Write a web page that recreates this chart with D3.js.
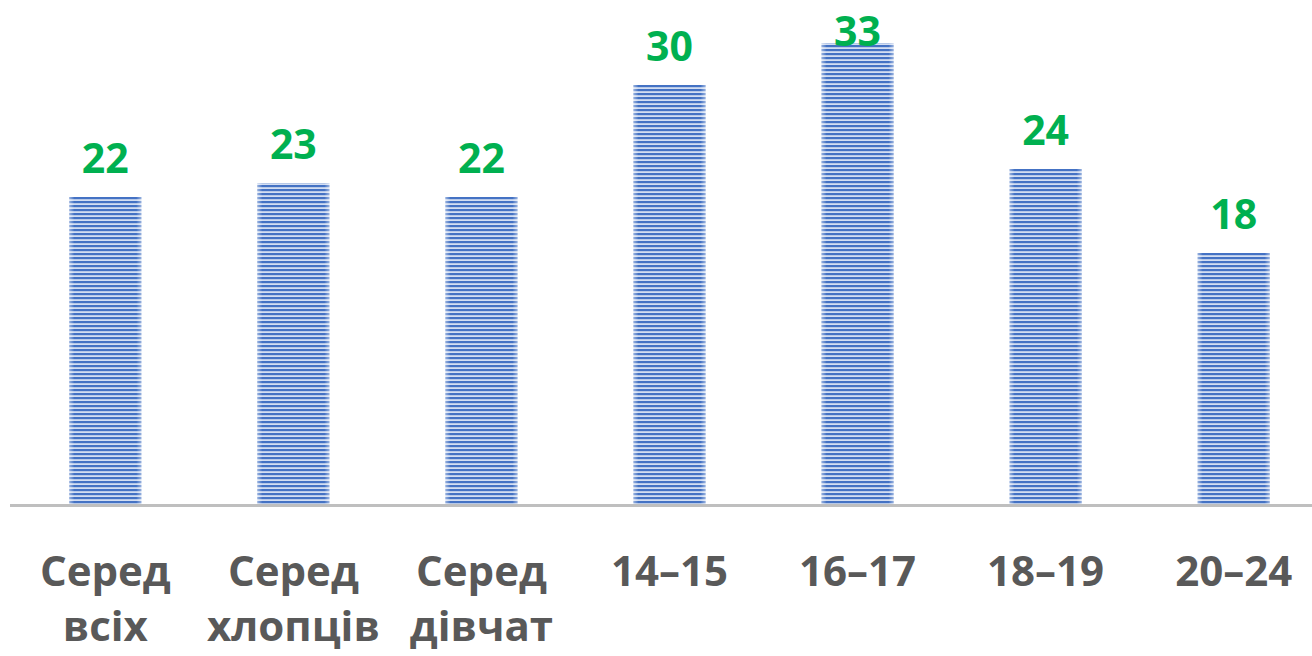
<!DOCTYPE html>
<html><head><meta charset="utf-8">
<script src="https://cdn.jsdelivr.net/npm/d3@7/dist/d3.min.js"></script>
<style>body{margin:0;background:#fff}svg{display:block}</style>
</head><body>
<svg id="c" width="1312" height="656"></svg>
<script>
const categories = [["Серед","всіх"],["Серед","хлопців"],["Серед","дівчат"],["14–15"],["16–17"],["18–19"],["20–24"]];
const values = [22,23,22,30,33,24,18];

const W=1312,H=656;
const svg=d3.select("#c");
const defs=svg.append("defs");
const pat=defs.append("pattern").attr("id","stripes").attr("patternUnits","userSpaceOnUse")
  .attr("width",8).attr("height",4).attr("y",1);
pat.append("rect").attr("width",8).attr("height",4).attr("fill","#d3def2");
pat.append("rect").attr("width",8).attr("height",2.2).attr("fill","#4472c4");
const lg=defs.append("linearGradient").attr("id","edge").attr("x1","0").attr("x2","1");
lg.append("stop").attr("offset","0").attr("stop-color","#fff").attr("stop-opacity",0.45);
lg.append("stop").attr("offset","0.07").attr("stop-color","#fff").attr("stop-opacity",0);
lg.append("stop").attr("offset","0.93").attr("stop-color","#fff").attr("stop-opacity",0);
lg.append("stop").attr("offset","1").attr("stop-color","#fff").attr("stop-opacity",0.45);

const x=d3.scaleBand().domain(d3.range(values.length)).range([11,1328]).paddingInner(0.617).paddingOuter(0.31);
const y=d3.scaleLinear().domain([0,33]).range([505,43]);

const g=svg.append("g");
g.selectAll("rect.bar").data(values).join("rect").attr("class","bar")
  .attr("x",(d,i)=>x(i)).attr("width",x.bandwidth())
  .attr("y",d=>y(d)).attr("height",d=>y(0)-y(d)).attr("fill","url(#stripes)");
g.selectAll("rect.edge").data(values).join("rect").attr("class","edge")
  .attr("x",(d,i)=>x(i)).attr("width",x.bandwidth())
  .attr("y",d=>y(d)).attr("height",d=>y(0)-y(d)).attr("fill","url(#edge)");

svg.append("line").attr("x1",10).attr("x2",W).attr("y1",505.5).attr("y2",505.5)
  .attr("stroke","#bfbfbf").attr("stroke-width",3);

g.selectAll("text.val").data(values).join("text").attr("class","val")
  .attr("x",(d,i)=>x(i)+x.bandwidth()/2)
  .attr("y",d=>Math.max(y(d)-24,46))
  .attr("text-anchor","middle").attr("font-family","Open Sans, sans-serif")
  .attr("font-weight","bold").attr("font-size",41).attr("fill","#00b050")
  .text(d=>d);

const lab=g.selectAll("text.cat").data(categories).join("text").attr("class","cat")
  .attr("x",(d,i)=>x(i)+x.bandwidth()/2).attr("y",586)
  .attr("text-anchor","middle").attr("font-family","Open Sans, sans-serif")
  .attr("font-weight","bold").attr("font-size",42).attr("fill","#595959");
lab.selectAll("tspan").data(d=>d).join("tspan")
  .attr("x",function(){return this.parentNode.getAttribute("x");})
  .attr("dy",(d,i)=>i?55:0).text(d=>d);
</script>
</body></html>
